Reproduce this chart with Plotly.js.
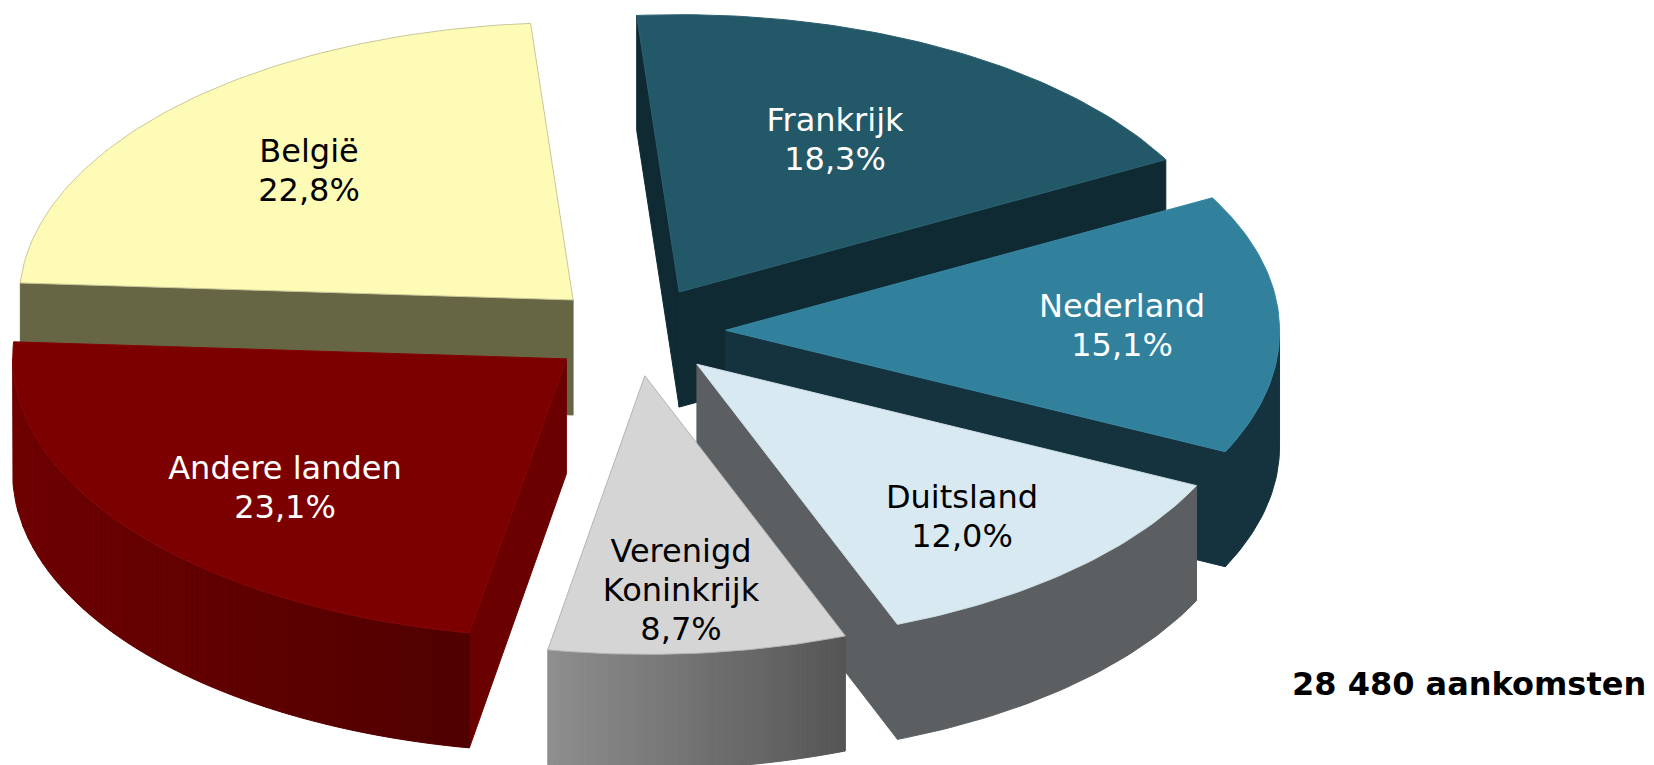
<!DOCTYPE html>
<html>
<head>
<meta charset="utf-8">
<script src="https://cdn.plot.ly/plotly-3.0.1.min.js"></script>
<style>html,body{margin:0;padding:0;background:#fff;overflow:hidden}#chart{width:1654px;height:765px}</style>
</head>
<body>
<div id="chart"></div>
<script>
// Data
const categories = ['Frankrijk', 'Nederland', 'Duitsland', 'Verenigd<br>Koninkrijk', 'Andere landen', 'België'];
const shares = [18.3, 15.1, 12.0, 8.7, 23.1, 22.8];
const totalNote = '28 480 aankomsten';

// Styles
const topColors  = ['#235868', '#31819d', '#d8e9f1', '#d6d5d6', '#7d0000', '#fdfbb5'];
const edgeColors = ['#2b6070', '#3a88a3', '#cfdfe6', '#b4b4b4', '#850505', '#c9c89a'];
const sideColors = ['#0f2a33', '#14333f', '#5b5f61', '#6f6f6f', '#6b0000', '#666645'];
const wallFrom   = ['#0f2a33', '#14333f', '#5b5f61', '#8e8e8e', '#6e0000', '#666645'];
const wallTo     = ['#0f2a33', '#14333f', '#5b5f61', '#555555', '#4f0000', '#666645'];
const textColors = ['#ffffff', '#ffffff', '#000000', '#000000', '#ffffff', '#000000'];
const drawOrder  = [5, 0, 1, 2, 4, 3];

// Projection of the tilted pie, in page pixels
const centre = [636.6, 331.3], radiusX = 553.8, radiusY = 277.4;
const explode = 0.161, depth = 115, startDeg = -4.4;
const frontShiftX = 2.6, frontShiftY = 1.2, linePitch = 39, labelSize = 32, stripWidth = 5;
const labelAnchors = [[835, 142], [1122, 328], [962, 519], [681, 593], [285, 490], [309, 173]];

const rad = d => d * Math.PI / 180;
const deg = r => r * 180 / Math.PI;
const hex = c => [1, 3, 5].map(i => parseInt(c.substr(i, 2), 16));
const mix = (a, b, t) => {
  const A = hex(a), B = hex(b);
  return 'rgb(' + A.map((v, i) => Math.round(v + (B[i] - v) * t)).join(',') + ')';
};
const total = shares.reduce((s, v) => s + v, 0);
let running = startDeg;
const slices = shares.map(v => {
  const t0 = running, t1 = running + v / total * 360;
  running = t1;
  const mid = rad((t0 + t1) / 2);
  return {t0, t1,
    ax: centre[0] + explode * radiusX * Math.sin(mid),
    ay: centre[1] - explode * radiusY * Math.cos(mid)};
});
const rim = (s, d, drop) => {
  const front = Math.max(0, -Math.cos(rad(d)));
  return [s.ax + radiusX * Math.sin(rad(d)) + frontShiftX * front,
          s.ay - radiusY * Math.cos(rad(d)) + frontShiftY * front + (drop || 0)];
};
const arc = (s, a, b, drop) => {
  const pts = [], n = Math.max(2, Math.ceil(Math.abs(b - a)));
  for (let k = 0; k <= n; k++) pts.push(rim(s, a + (b - a) * k / n, drop));
  return pts;
};
const poly = (pts, fill, line, width) => ({
  type: 'scatter', mode: 'lines', x: pts.map(p => p[0]), y: pts.map(p => p[1]),
  fill: 'toself', fillcolor: fill, line: {color: line, width: width}, hoverinfo: 'skip', showlegend: false
});

const traces = [];
drawOrder.forEach(i => {
  const s = slices[i];
  const face = d => {
    const e = rim(s, d);
    traces.push(poly([[s.ax, s.ay], e, [e[0], e[1] + depth], [s.ax, s.ay + depth], [s.ax, s.ay]], sideColors[i], sideColors[i], 1));
  };
  if (Math.sin(rad(s.t0)) < 0) face(s.t0);
  if (Math.sin(rad(s.t1)) > 0) face(s.t1);
  const lo = Math.max(s.t0, 90), hi = Math.min(s.t1, 270);
  if (lo < hi) {
    // Shaded walls are cut into strips of equal screen width, so the shade runs left to right
    const sLo = Math.sin(rad(lo)), sHi = Math.sin(rad(hi));
    const steps = wallFrom[i] === wallTo[i] ? 1 : Math.ceil((sLo - sHi) * radiusX / stripWidth);
    const angleAt = k => k === 0 ? lo : k === steps ? hi : 180 - deg(Math.asin(sLo + (sHi - sLo) * k / steps));
    for (let k = 0; k < steps; k++) {
      const col = mix(wallFrom[i], wallTo[i], 1 - (k + 0.5) / steps);
      const a = angleAt(k), b = angleAt(k + 1);
      const pts = arc(s, a, b, 0).concat(arc(s, b, a, depth));
      pts.push(pts[0]);
      traces.push(poly(pts, col, col, 1));
    }
  }
  const pts = [[s.ax, s.ay]].concat(arc(s, s.t0, s.t1, 0));
  pts.push([s.ax, s.ay]);
  traces.push(poly(pts, topColors[i], edgeColors[i], 1));
});

// Labels: every text line is its own point, so the line pitch matches the reference
const lx = [], ly = [], lt = [], lc = [];
categories.forEach((c, i) => {
  const lines = c.split('<br>').concat(shares[i].toFixed(1).replace('.', ',') + '%');
  lines.forEach((t, k) => {
    lx.push(labelAnchors[i][0]);
    ly.push(labelAnchors[i][1] + (k - (lines.length - 1) / 2) * linePitch);
    lt.push(t);
    lc.push(textColors[i]);
  });
});
traces.push({
  type: 'scatter', mode: 'text', hoverinfo: 'skip', showlegend: false,
  x: lx, y: ly, text: lt, textposition: 'middle center',
  textfont: {family: '"DejaVu Sans", sans-serif', size: labelSize, color: lc}
});

const hidden = {visible: false, fixedrange: true};
Plotly.newPlot('chart', traces, {
  width: 1654, height: 765, margin: {l: 0, r: 0, t: 0, b: 0},
  paper_bgcolor: '#ffffff', plot_bgcolor: '#ffffff', showlegend: false,
  xaxis: Object.assign({range: [0, 1654]}, hidden),
  yaxis: Object.assign({range: [765, 0]}, hidden),
  annotations: [{
    xref: 'x', yref: 'y', x: 1648, y: 684, xanchor: 'right', yanchor: 'middle', showarrow: false,
    text: '<b>' + totalNote + '</b>',
    font: {family: '"DejaVu Sans", sans-serif', size: 32, color: '#000000'}
  }]
}, {displayModeBar: false, staticPlot: true});
</script>
</body>
</html>
